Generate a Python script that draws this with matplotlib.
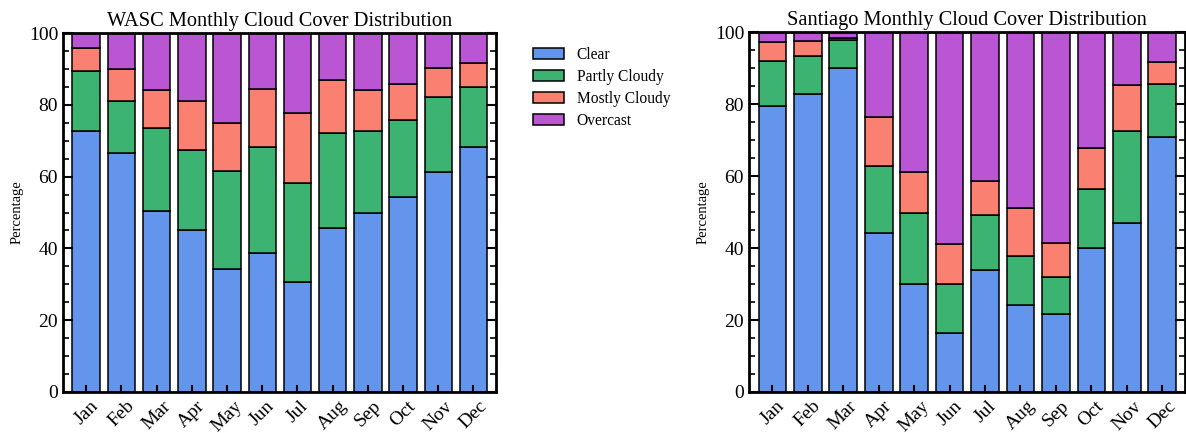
import matplotlib
matplotlib.use("Agg")
import matplotlib.pyplot as plt
import numpy as np
from matplotlib.ticker import MultipleLocator

plt.rcParams['font.family'] = ['Liberation Serif', 'DejaVu Serif']

months = ["Jan", "Feb", "Mar", "Apr", "May", "Jun", "Jul", "Aug", "Sep", "Oct", "Nov", "Dec"]
categories = ["Clear", "Partly Cloudy", "Mostly Cloudy", "Overcast"]
colors = ["#6495ED", "#3CB371", "#FA8072", "#BA55D3"]

# WASC percentages
wasc_clear = [72.8, 66.7, 50.3, 45.1, 34.3, 38.8, 30.7, 45.8, 49.9, 54.4, 61.2, 68.2]
wasc_partly = [16.7, 14.5, 23.2, 22.4, 27.4, 29.4, 27.6, 26.3, 22.7, 21.5, 21.0, 16.9]
wasc_mostly = [6.4, 8.9, 10.5, 13.5, 13.2, 16.1, 19.3, 14.8, 11.6, 10.0, 8.0, 6.5]
wasc_overcast = [4.1, 9.9, 16.0, 19.0, 25.1, 15.7, 22.4, 13.1, 15.8, 14.1, 9.8, 8.4]

# Santiago percentages
stgo_clear = [79.4, 82.9, 90.0, 44.2, 30.1, 16.4, 33.9, 24.2, 21.7, 40.0, 47.0, 70.9]
stgo_partly = [12.6, 10.6, 7.8, 18.5, 19.6, 13.5, 15.4, 13.5, 10.2, 16.3, 25.5, 14.6]
stgo_mostly = [5.4, 4.1, 0.6, 13.7, 11.4, 11.2, 9.4, 13.3, 9.4, 11.4, 12.7, 6.1]
stgo_overcast = [2.6, 2.4, 1.6, 23.6, 38.9, 58.9, 41.3, 49.0, 58.7, 32.3, 14.8, 8.4]

fig = plt.figure(figsize=(11.86, 4.33), dpi=100)
ax1 = fig.add_axes([0.0531, 0.0947, 0.3651, 0.829])
ax2 = fig.add_axes([0.6315, 0.0947, 0.3676, 0.831])

def draw(ax, series, title):
    x = np.arange(len(months))
    bottom = np.zeros(len(months))
    handles = []
    for vals, lab, col in zip(series, categories, colors):
        v = np.array(vals)
        b = ax.bar(x, v, 0.78, bottom=bottom, color=col, edgecolor="black",
                   linewidth=1.1, label=lab)
        handles.append(b)
        bottom += v
    ax.set_xlim(-0.66, 11.64)
    ax.set_ylim(0, 100)
    ax.set_xticks(x)
    ax.set_xticklabels(months, rotation=45, fontsize=14)
    ax.yaxis.set_major_locator(MultipleLocator(20))
    ax.yaxis.set_minor_locator(MultipleLocator(5))
    ax.tick_params(axis='y', which='major', direction='in', length=7, width=1.5,
                   left=True, right=True, labelsize=14)
    ax.tick_params(axis='y', which='minor', direction='in', length=4, width=1.2,
                   left=True, right=True)
    ax.tick_params(axis='x', which='major', direction='in', length=5, width=1.5,
                   top=False, bottom=True, pad=4)
    for s in ax.spines.values():
        s.set_linewidth(2)
    ax.set_ylabel("Percentage", fontsize=10.5)
    ax.set_title(title, fontsize=14.7, pad=5)
    return handles

h = draw(ax1, [wasc_clear, wasc_partly, wasc_mostly, wasc_overcast],
         "WASC Monthly Cloud Cover Distribution")
draw(ax2, [stgo_clear, stgo_partly, stgo_mostly, stgo_overcast],
     "Santiago Monthly Cloud Cover Distribution")

fig.legend(handles=h, labels=categories, loc="upper left",
           bbox_to_anchor=(519 / 1186, 1 - 33 / 433), frameon=False, fontsize=11.2,
           handlelength=2.0, labelspacing=0.38)

fig.savefig("out.png", dpi=100)
